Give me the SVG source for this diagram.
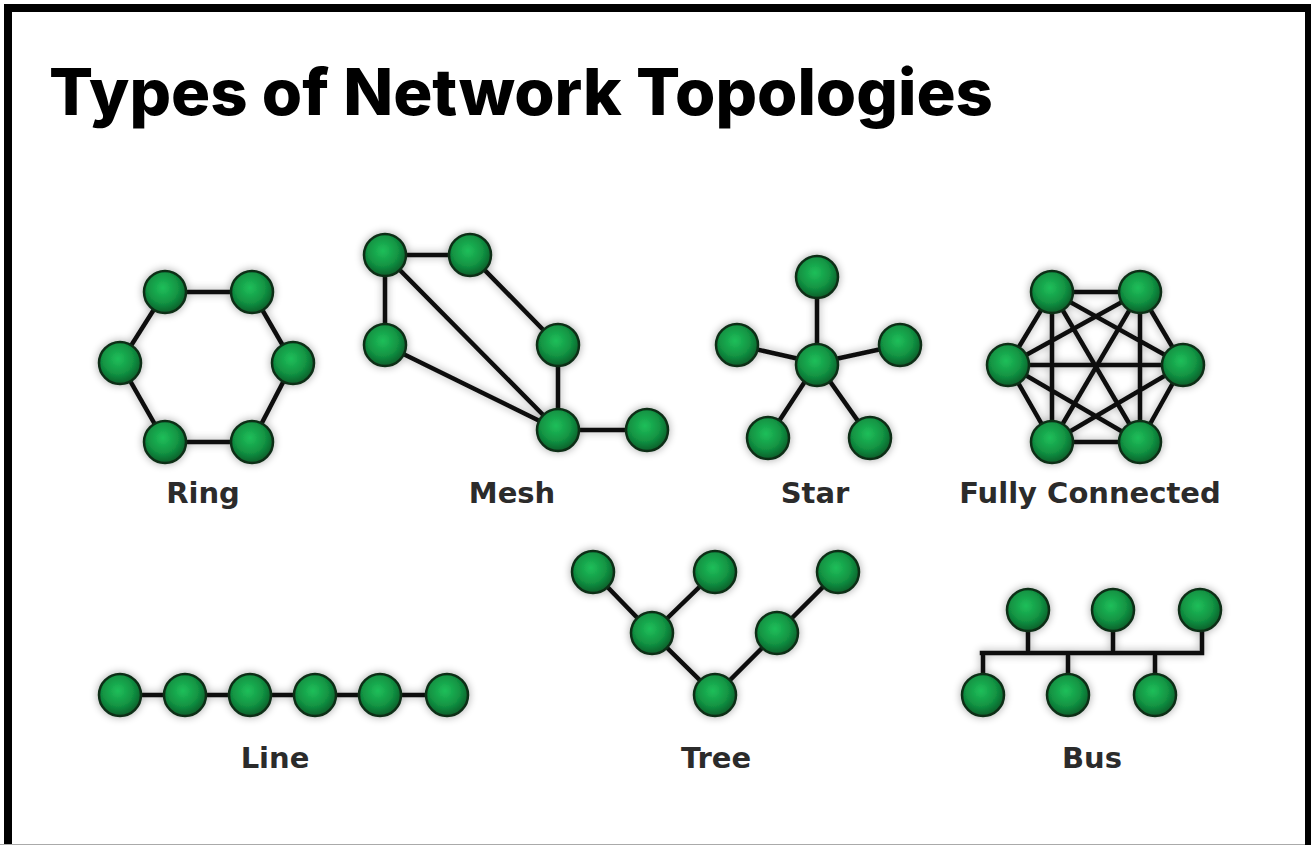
<svg xmlns="http://www.w3.org/2000/svg" width="1311" height="845" viewBox="0 0 1311 845">
<defs>
<radialGradient id="g" cx="0.45" cy="0.4" r="0.6">
<stop offset="0" stop-color="#1fbf5a"/>
<stop offset="0.6" stop-color="#129443"/>
<stop offset="1" stop-color="#0a5f2a"/>
</radialGradient>
<filter id="sh" x="-20%" y="-20%" width="140%" height="140%">
<feGaussianBlur in="SourceAlpha" stdDeviation="4" result="b"/>
<feComponentTransfer in="b" result="s"><feFuncA type="linear" slope="0.35"/></feComponentTransfer>
<feMerge><feMergeNode in="s"/><feMergeNode in="SourceGraphic"/></feMerge>
</filter>
<style>
.n{fill:url(#g);stroke:#0b2e17;stroke-width:2.5}
.e{stroke:#111;stroke-width:4.5;fill:none;stroke-linecap:square}
.lbl{font-family:"DejaVu Sans",Verdana,sans-serif;font-weight:bold;font-size:29px;fill:#2b2b2b;text-anchor:middle}
.title{font-family:Inter,"Liberation Sans",sans-serif;font-weight:800;font-size:64px;fill:#000}
</style>
</defs>
<rect x="0" y="0" width="1311" height="845" fill="#fff"/>
<rect x="8" y="8" width="1301" height="845" fill="none" stroke="#000" stroke-width="8"/>
<line x1="0" y1="844.5" x2="1305" y2="844.5" stroke="#aaa" stroke-width="1"/>
<text class="title" x="49" y="115" textLength="944" lengthAdjust="spacingAndGlyphs">Types of Network Topologies</text>

<g filter="url(#sh)">
<g id="connectors">
<!-- Ring -->
<path class="e" d="M165 292 L252 292 L293 363 L252 442 L165 442 L120 363 Z"/>
<!-- Mesh -->
<path class="e" d="M385 255 L470 255 M385 255 L385 345 M385 255 L558 430 M385 345 L558 430 M470 255 L558 345 M558 345 L558 430 M558 430 L647 430"/>
<!-- Star -->
<path class="e" d="M817 363 L817 277 M817 363 L737 345 M817 363 L900 345 M817 363 L768 438 M817 363 L870 438"/>
<!-- Fully connected -->
<path class="e" d="M1052 292 L1140 292 M1052 292 L1008 365 M1052 292 L1183 365 M1052 292 L1052 442 M1052 292 L1140 442 M1140 292 L1008 365 M1140 292 L1183 365 M1140 292 L1052 442 M1140 292 L1140 442 M1008 365 L1183 365 M1008 365 L1052 442 M1008 365 L1140 442 M1183 365 L1052 442 M1183 365 L1140 442 M1052 442 L1140 442"/>
<!-- Line -->
<path class="e" d="M120 695 L447 695"/>
<!-- Tree -->
<path class="e" d="M593 572 L652 633 M715 572 L652 633 M652 633 L715 695 L777 633 L838 572"/>
<!-- Bus -->
<path class="e" d="M982 653 L1202 653 M1028 610 L1028 653 M1113 610 L1113 653 M1202 610 L1202 653 M983 653 L983 695 M1068 653 L1068 695 M1155 653 L1155 695"/>
</g>

<g id="ring">
<circle class="n" cx="165" cy="292" r="21"/>
<circle class="n" cx="252" cy="292" r="21"/>
<circle class="n" cx="120" cy="363" r="21"/>
<circle class="n" cx="293" cy="363" r="21"/>
<circle class="n" cx="165" cy="442" r="21"/>
<circle class="n" cx="252" cy="442" r="21"/>
</g>
<g id="mesh">
<circle class="n" cx="385" cy="255" r="21"/>
<circle class="n" cx="470" cy="255" r="21"/>
<circle class="n" cx="385" cy="345" r="21"/>
<circle class="n" cx="558" cy="345" r="21"/>
<circle class="n" cx="558" cy="430" r="21"/>
<circle class="n" cx="647" cy="430" r="21"/>
</g>
<g id="star">
<circle class="n" cx="817" cy="277" r="21"/>
<circle class="n" cx="737" cy="345" r="21"/>
<circle class="n" cx="900" cy="345" r="21"/>
<circle class="n" cx="817" cy="365" r="21"/>
<circle class="n" cx="768" cy="438" r="21"/>
<circle class="n" cx="870" cy="438" r="21"/>
</g>
<g id="fully-connected">
<circle class="n" cx="1052" cy="292" r="21"/>
<circle class="n" cx="1140" cy="292" r="21"/>
<circle class="n" cx="1008" cy="365" r="21"/>
<circle class="n" cx="1183" cy="365" r="21"/>
<circle class="n" cx="1052" cy="442" r="21"/>
<circle class="n" cx="1140" cy="442" r="21"/>
</g>
<g id="line">
<circle class="n" cx="120" cy="695" r="21"/>
<circle class="n" cx="185" cy="695" r="21"/>
<circle class="n" cx="250" cy="695" r="21"/>
<circle class="n" cx="315" cy="695" r="21"/>
<circle class="n" cx="380" cy="695" r="21"/>
<circle class="n" cx="447" cy="695" r="21"/>
</g>
<g id="tree">
<circle class="n" cx="593" cy="572" r="21"/>
<circle class="n" cx="715" cy="572" r="21"/>
<circle class="n" cx="838" cy="572" r="21"/>
<circle class="n" cx="652" cy="633" r="21"/>
<circle class="n" cx="777" cy="633" r="21"/>
<circle class="n" cx="715" cy="695" r="21"/>
</g>
<g id="bus">
<circle class="n" cx="1028" cy="610" r="21"/>
<circle class="n" cx="1113" cy="610" r="21"/>
<circle class="n" cx="1200" cy="610" r="21"/>
<circle class="n" cx="983" cy="695" r="21"/>
<circle class="n" cx="1068" cy="695" r="21"/>
<circle class="n" cx="1155" cy="695" r="21"/>
</g>
</g>

<g id="labels">
<text class="lbl" x="203" y="503">Ring</text>
<text class="lbl" x="512" y="503">Mesh</text>
<text class="lbl" x="815" y="503">Star</text>
<text class="lbl" x="1090" y="503">Fully Connected</text>
<text class="lbl" x="275" y="768">Line</text>
<text class="lbl" x="716" y="768">Tree</text>
<text class="lbl" x="1092" y="768">Bus</text>
</g>
</svg>
